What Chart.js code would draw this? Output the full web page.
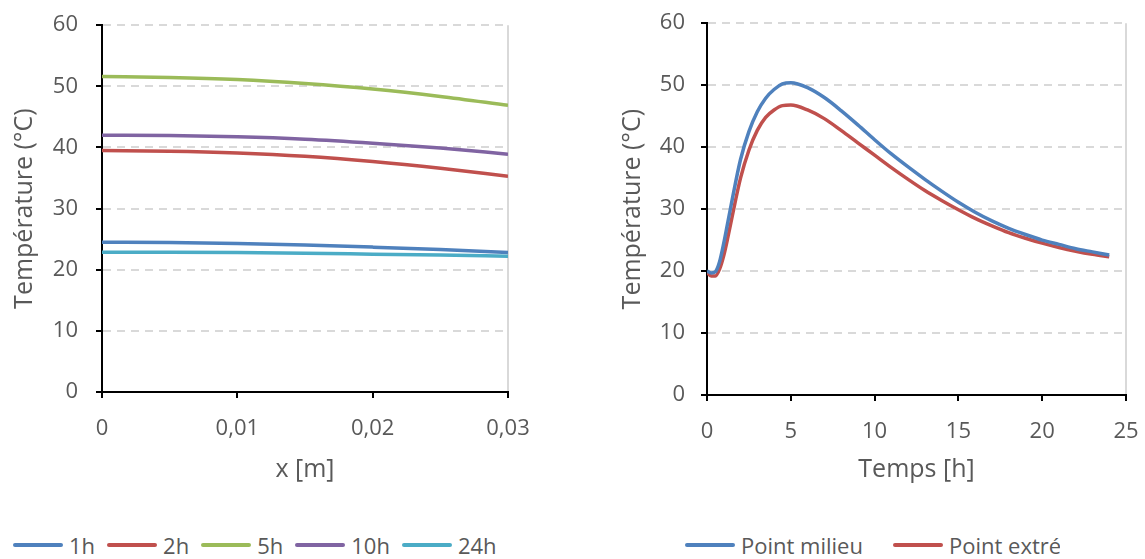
<!DOCTYPE html>
<html>
<head>
<meta charset="utf-8">
<script src="https://cdn.jsdelivr.net/npm/chart.js@4.4.1/dist/chart.umd.min.js"></script>
<style>
html, body { margin: 0; padding: 0; background: #fff; overflow: hidden; width: 1145px; height: 559px; position: relative; }
#leftChart { position: absolute; left: 0; top: -6px; }
#rightChart { position: absolute; left: 605px; top: -6px; }
.legend { position: absolute; top: 531px; height: 28px; display: flex; align-items: center; font-family: "Open Sans"; font-size: 22px; color: #595959; white-space: nowrap; overflow: hidden; }
.legend .item { display: flex; align-items: center; }
.legend .swatch { display: inline-block; width: 50px; height: 4px; border-radius: 2px; margin-right: 6px; }
</style>
</head>
<body>
<canvas id="leftChart" width="560" height="506"></canvas>
<canvas id="rightChart" width="560" height="506"></canvas>
<div class="legend" id="leftLegend" style="left:13px"></div>
<div class="legend" id="rightLegend" style="left:685px; width:375px"></div>
<script>
// profils de température dans l'épaisseur (x en m)
const xPos = [0, 0.005, 0.01, 0.015, 0.02, 0.025, 0.03];
const profileNames = ['1h', '2h', '5h', '10h', '24h'];
const temp1h  = [24.5, 24.45, 24.3, 24.05, 23.7, 23.3, 22.8];
const temp2h  = [39.5, 39.4, 39.1, 38.55, 37.7, 36.6, 35.3];
const temp5h  = [51.6, 51.45, 51.1, 50.45, 49.55, 48.35, 46.9];
const temp10h = [42.0, 41.95, 41.75, 41.35, 40.7, 39.9, 38.9];
const temp24h = [22.85, 22.85, 22.8, 22.7, 22.55, 22.4, 22.2];

// évolution dans le temps (h)
const hours = [0, 0.25, 0.5, 0.75, 1, 1.25, 1.5, 2, 2.5, 3, 3.5, 4, 4.5, 5, 6, 7, 8, 9, 10, 11, 12, 13, 14, 15, 16, 17, 18, 19, 20, 21, 22, 23, 24];
const timeNames = ['Point milieu', 'Point extrémité'];
const tempMilieu = [20.0, 19.7, 19.9, 21.5, 24.5, 28.0, 31.5, 38.0, 42.5, 45.7, 47.9, 49.3, 50.2, 50.4, 49.6, 48.0, 45.9, 43.6, 41.2, 38.9, 36.8, 34.8, 32.9, 31.1, 29.5, 28.1, 26.9, 25.9, 25.0, 24.3, 23.6, 23.1, 22.6];
const tempExtremite = [19.8, 19.2, 19.2, 20.3, 22.5, 25.5, 28.8, 35.0, 39.5, 42.7, 44.8, 46.0, 46.7, 46.8, 46.0, 44.6, 42.7, 40.7, 38.7, 36.7, 34.8, 33.0, 31.4, 29.9, 28.5, 27.3, 26.2, 25.3, 24.5, 23.8, 23.2, 22.7, 22.3];

const profileColors = ['#4F81BD', '#C0504D', '#9BBB59', '#8064A2', '#4BACC6'];
const timeColors = ['#4F81BD', '#C0504D'];

const textColor = '#595959';
const fontFamily = 'Open Sans';

function makeDatasets(names, xs, series, colors) {
    return names.map(function (name, i) {
        return {
            label: name,
            data: xs.map(function (x, j) { return { x: x, y: series[i][j] }; }),
            borderColor: colors[i],
            backgroundColor: colors[i],
            borderWidth: 3.5,
            pointRadius: 0,
            cubicInterpolationMode: 'monotone',
            fill: false
        };
    });
}

function yScale(titlePad, tickPad) {
    return {
        min: 0, max: 60,
        ticks: { stepSize: 10, color: textColor, font: { family: fontFamily, size: 22 }, padding: tickPad },
        grid: {
            color: function (c) { return c.tick && c.tick.value === 0 ? 'rgba(0,0,0,0)' : '#D9D9D9'; },
            lineWidth: 2, tickColor: '#000', tickLength: 6, tickWidth: 2
        },
        border: { color: '#000', width: 2, dash: [8, 6] },
        title: { display: true, text: 'Température (°C)', color: textColor, font: { family: fontFamily, size: 25 }, padding: { top: titlePad, bottom: 0 } },
        afterFit: function (s) { s.width = 102; }
    };
}

function xScale(max, step, title, fmt, h) {
    return {
        type: 'linear', min: 0, max: max,
        ticks: { stepSize: step, color: textColor, font: { family: fontFamily, size: 22 }, padding: 18, maxRotation: 0, callback: fmt },
        grid: {
            color: function (c) { return c.tick && Math.abs(c.tick.value - max) < 1e-9 ? '#D9D9D9' : 'rgba(0,0,0,0)'; },
            lineWidth: 2, tickColor: '#000', tickLength: 6, tickWidth: 2
        },
        border: { color: '#000', width: 2 },
        title: { display: true, text: title, color: textColor, font: { family: fontFamily, size: 25 }, padding: { top: 0, bottom: 15 } },
        afterFit: function (s) { s.height = h; }
    };
}

function commaFmt(v) {
    if (Math.abs(v) < 1e-9) return '0';
    return v.toFixed(2).replace('.', ',');
}

new Chart(document.getElementById('leftChart'), {
    type: 'line',
    data: { datasets: makeDatasets(profileNames, xPos, [temp1h, temp2h, temp5h, temp10h, temp24h], profileColors) },
    options: {
        responsive: false, animation: false,
        layout: { padding: { top: 18, right: 52, left: 0, bottom: 0 } },
        plugins: { legend: { display: false }, tooltip: { enabled: false } },
        scales: { x: xScale(0.03, 0.01, 'x [m]', commaFmt, 108), y: yScale(10, 18) }
    }
});

new Chart(document.getElementById('rightChart'), {
    type: 'line',
    data: { datasets: makeDatasets(timeNames, hours, [tempMilieu, tempExtremite], timeColors) },
    options: {
        responsive: false, animation: false,
        layout: { padding: { top: 18, right: 39, left: 0, bottom: 0 } },
        plugins: { legend: { display: false }, tooltip: { enabled: false } },
        scales: { x: xScale(25, 5, 'Temps [h]', function (v) { return v; }, 105), y: yScale(13, 16) }
    }
});

// légendes sous les graphiques
function buildLegend(el, names, colors, gap) {
    names.forEach(function (name, i) {
        const item = document.createElement('span');
        item.className = 'item';
        if (i > 0) item.style.marginLeft = gap + 'px';
        const sw = document.createElement('span');
        sw.className = 'swatch';
        sw.style.background = colors[i];
        const tx = document.createElement('span');
        tx.textContent = name;
        item.appendChild(sw);
        item.appendChild(tx);
        el.appendChild(item);
    });
}
buildLegend(document.getElementById('leftLegend'), profileNames, profileColors, 12);
buildLegend(document.getElementById('rightLegend'), timeNames, timeColors, 30);
</script>
</body>
</html>
